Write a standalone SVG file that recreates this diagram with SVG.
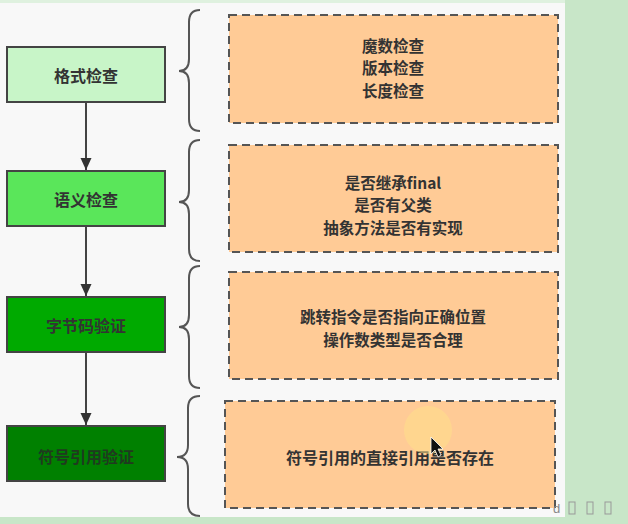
<svg xmlns="http://www.w3.org/2000/svg" width="628" height="524" viewBox="0 0 628 524">
<style>
.step{stroke:#444;stroke-width:2}
.lbl{font-family:"Noto Sans CJK SC","Liberation Sans",sans-serif;font-size:15.5px;font-weight:bold;fill:#333;text-anchor:middle;dominant-baseline:central}
.big{font-size:16px}
.note{fill:#ffcb96;stroke:#555;stroke-width:2;stroke-dasharray:8 5}
.brace{fill:none;stroke:#555;stroke-width:2}
.conn{stroke:#444;stroke-width:2}
.tofu{fill:none;stroke:#999;stroke-width:1}
</style>
<defs>
<marker id="arr" viewBox="0 0 12 16" refX="12" refY="8" markerWidth="12" markerHeight="16" markerUnits="userSpaceOnUse" orient="auto">
<path d="M0,2.5 L12,8 L0,13.5 Z" fill="#333"/>
</marker>
</defs>
<rect x="0" y="0" width="628" height="524" fill="#f8f8f8"/>
<rect x="0" y="0" width="628" height="3" fill="#dff1df"/>
<rect x="565" y="0" width="63" height="524" fill="#c8e6c8"/>
<rect x="0" y="517" width="628" height="7" fill="#c8e6c8"/>

<g id="connectors">
<line class="conn" x1="86" y1="102" x2="86" y2="170" marker-end="url(#arr)"/>
<line class="conn" x1="86" y1="226" x2="86" y2="296" marker-end="url(#arr)"/>
<line class="conn" x1="86" y1="352" x2="86" y2="425" marker-end="url(#arr)"/>
</g>

<g id="step1"><rect class="step" x="7" y="47" width="158" height="55" fill="#c8f5c8"/><text class="lbl big" x="86" y="75">格式检查</text></g>
<g id="step2"><rect class="step" x="7" y="171" width="158" height="55" fill="#5ae65a"/><text class="lbl big" x="86" y="199">语义检查</text></g>
<g id="step3"><rect class="step" x="7" y="297" width="158" height="55" fill="#00aa00"/><text class="lbl big" x="86" y="325">字节码验证</text></g>
<g id="step4"><rect class="step" x="7" y="426" width="158" height="55" fill="#008000"/><text class="lbl big" x="86" y="456" style="fill:#1f3a1f">符号引用验证</text></g>

<g id="brace1"><path class="brace" d="M200,10 Q189,10 189,22 L189,59 Q189,71 179,71 Q189,71 189,83 L189,119 Q189,131 200,131"/></g>
<g id="brace2"><path class="brace" d="M200,140 Q189,140 189,152 L189,190 Q189,202 179,202 Q189,202 189,214 L189,249 Q189,261 200,261"/></g>
<g id="brace3"><path class="brace" d="M200,266 Q189,266 189,278 L189,315 Q189,327 179,327 Q189,327 189,339 L189,376 Q189,388 200,388"/></g>
<g id="brace4"><path class="brace" d="M200,396 Q188,396 188,408 L188,445 Q188,457 177,457 Q188,457 188,469 L188,504 Q188,516 200,516"/></g>

<g id="note1"><rect class="note" x="229" y="15" width="329" height="108"/>
<text class="lbl" x="393" y="44.5">魔数检查</text><text class="lbl" x="393" y="67">版本检查</text><text class="lbl" x="393" y="89.5">长度检查</text></g>
<g id="note2"><rect class="note" x="229" y="145" width="329" height="107"/>
<text class="lbl" x="393" y="181.5">是否继承final</text><text class="lbl" x="393" y="204">是否有父类</text><text class="lbl" x="393" y="226.5">抽象方法是否有实现</text></g>
<g id="note3"><rect class="note" x="229" y="272" width="329" height="107"/>
<text class="lbl" x="393" y="316">跳转指令是否指向正确位置</text><text class="lbl" x="393" y="338.5">操作数类型是否合理</text></g>
<g id="note4"><rect class="note" x="225" y="401" width="330" height="107"/>
<text class="lbl big" x="390" y="457">符号引用的直接引用是否存在</text></g>

<circle cx="428" cy="430" r="24" fill="#ffe08a" opacity="0.55"/>
<path d="M431,437 L431,454 L435,450 L438,457 L441,455 L438,449 L443,449 Z" fill="#111" stroke="#fff" stroke-width="0.8"/>

<text x="553" y="513" font-family="Liberation Sans,sans-serif" font-size="13" fill="#888">d</text>
<rect class="tofu" x="569" y="502" width="6" height="12"/>
<rect class="tofu" x="587" y="502" width="6" height="12"/>
<rect class="tofu" x="605" y="502" width="6" height="12"/>
</svg>
